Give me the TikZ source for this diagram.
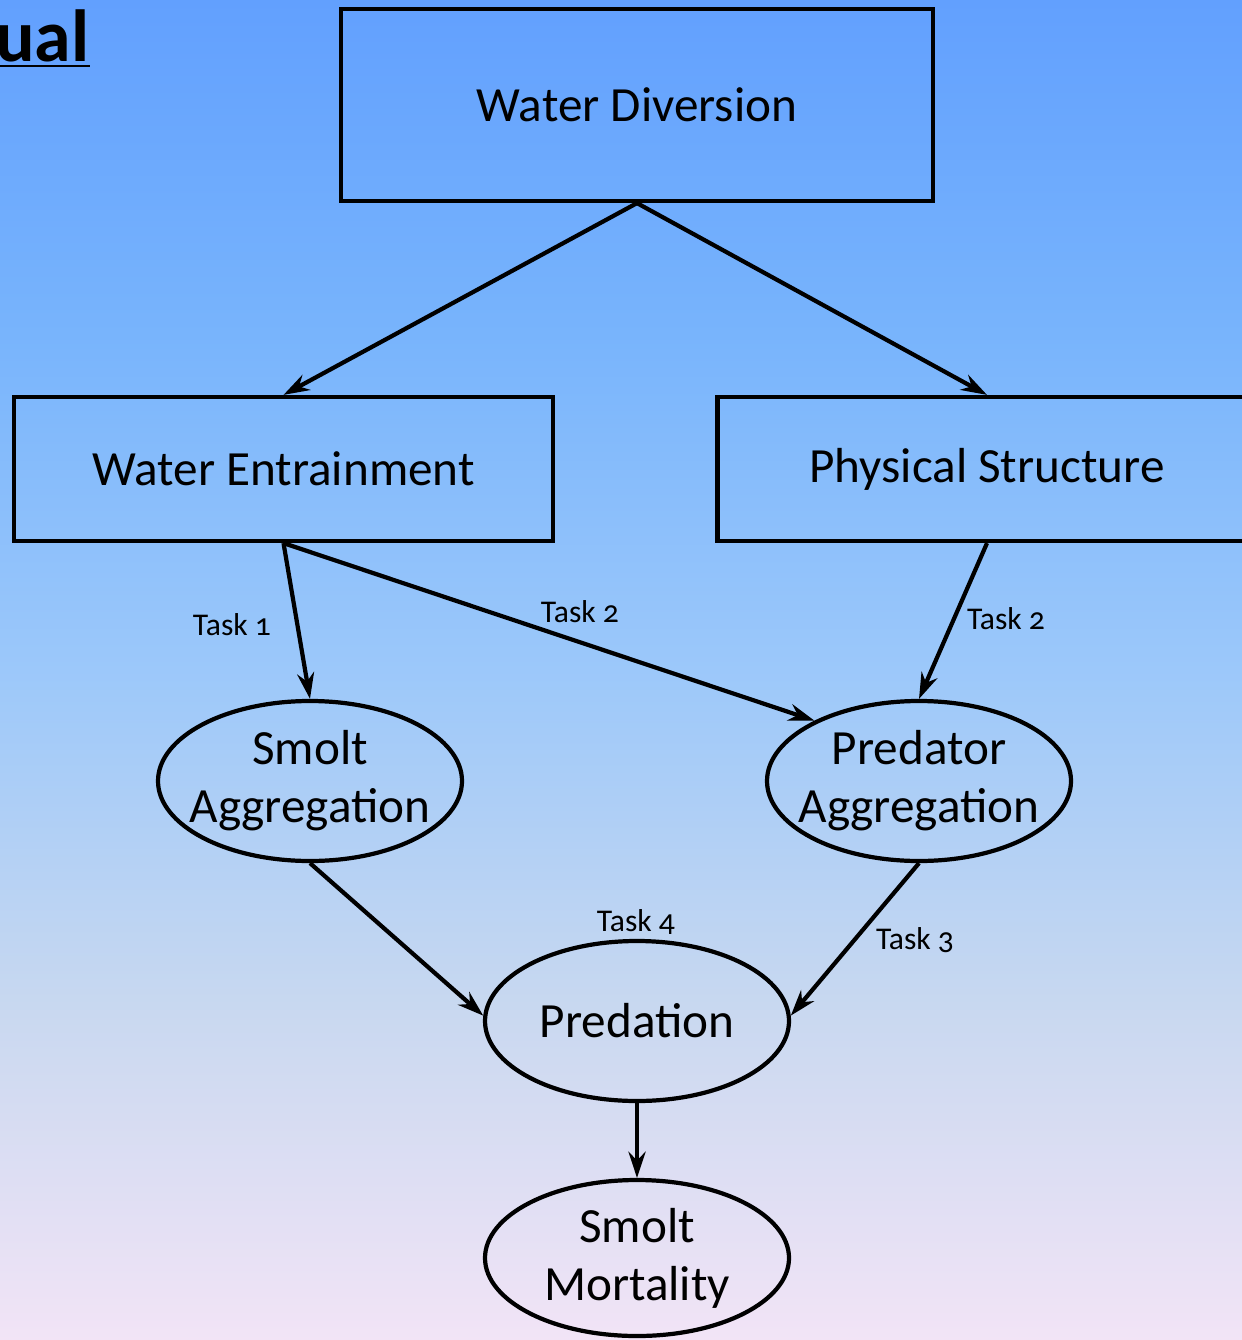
\documentclass[tikz,border=0pt]{standalone}
\usepackage{fontspec}
\setmainfont[Numbers=OldStyle]{Carlito}
\usetikzlibrary{arrows.meta,shapes.geometric}
\definecolor{bgtop}{RGB}{98,160,254}
\definecolor{bgup}{RGB}{120,180,252}
\definecolor{bgmid}{RGB}{156,200,250}
\definecolor{bglow}{RGB}{200,216,240}
\definecolor{bgbot}{RGB}{242,228,246}
\pgfdeclareverticalshading{slide}{100bp}{color(0bp)=(bgbot); color(25bp)=(bgbot); color(37.5bp)=(bglow); color(50bp)=(bgmid); color(62.5bp)=(bgup); color(75bp)=(bgtop); color(100bp)=(bgtop)}
\tikzset{
  box/.style={draw=black, line width=1.2pt, rectangle, minimum width=#1, minimum height=1.44cm, inner sep=0pt, font=\fontsize{14}{16}\selectfont},
  blob/.style={draw=black, line width=1.2pt, ellipse, minimum width=3.04cm, minimum height=1.6cm, inner xsep=-0.4cm, inner ysep=0pt, align=center, font=\fontsize{14}{16.5}\selectfont},
  arr/.style={line width=1.2pt, -{Stealth[length=2.6mm,width=1.7mm]}},
  tasklbl/.style={inner sep=0pt, font=\fontsize{9}{10}\selectfont}
}
\begin{document}
\begin{tikzpicture}
  %%%%% START %%%%%
  \useasboundingbox (0,0) rectangle (12.42,-13.40);
  \shade[shading=slide] (0,0) rectangle (12.42,-13.40);
  \begin{scope}
    \clip (0,0) rectangle (12.42,-13.40);

    \node[anchor=base east, inner sep=0pt, font=\fontsize{21}{22}\selectfont\bfseries] (title) at (0.90,-0.62) {ual};
    \draw[line width=0.8pt] (-0.2,-0.66) -- (0.90,-0.66);

    \node[box=5.92cm, minimum height=1.92cm] (wd) at (6.37,-1.05) {Water Diversion};
    \node[box=5.39cm] (we) at (2.835,-4.69) {Water Entrainment};
    \node[box=5.39cm] (ps) at (9.87,-4.69) {Physical Structure};

    \node[blob] (sagg) at (3.10,-7.81) {Smolt\\Aggregation};
    \node[blob] (pagg) at (9.19,-7.81) {Predator\\Aggregation};
    \node[blob] (pred) at (6.37,-10.21) {Predation};
    \node[blob, minimum height=1.56cm] (mort) at (6.37,-12.58) {Smolt\\Mortality};

    \draw[arr] (wd.south) -- (we.north);
    \draw[arr] (wd.south) -- (ps.north);
    \draw[arr] (we.south) -- (sagg.north);
    \draw[arr] (we.south) -- (pagg.150);
    \draw[arr] (ps.south) -- (pagg.north);
    \draw[arr] (sagg.south) -- (pred.178);
    \draw[arr] (pagg.south) -- (pred.2);
    \draw[arr] (pred.south) -- (mort.north);

    \node[tasklbl] (t1) at (2.32,-6.25) {Task 1};
    \node[tasklbl] (t2a) at (5.80,-6.12) {Task 2};
    \node[tasklbl] (t2b) at (10.06,-6.19) {Task 2};
    \node[tasklbl] (t3) at (9.15,-9.40) {Task 3};
    \node[tasklbl] (t4) at (6.36,-9.22) {Task 4};
  \end{scope}
  %%%%% END %%%%%
\end{tikzpicture}
\end{document}
